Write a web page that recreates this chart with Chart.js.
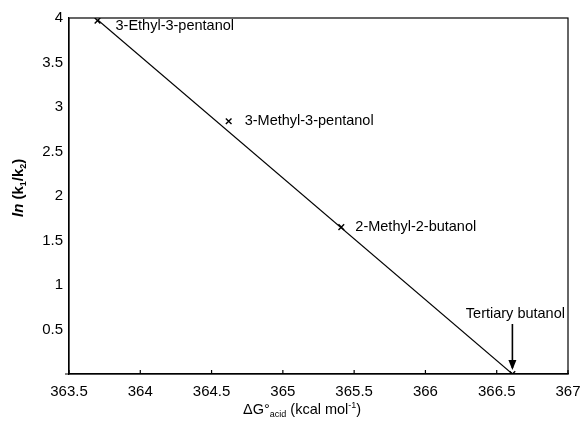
<!DOCTYPE html>
<html>
<head>
<meta charset="utf-8">
<script src="https://cdn.jsdelivr.net/npm/chart.js@4"></script>
<style>
  body { margin: 0; background: #fff; }
  #wrap { width: 583px; height: 427px; }
</style>
</head>
<body>
<div id="wrap"><canvas id="lnChart" width="583" height="427"></canvas></div>
<script>
// alcohols and their measured values
const alcohols = ['3-Ethyl-3-pentanol', '3-Methyl-3-pentanol', '2-Methyl-2-butanol', 'Tertiary butanol'];
const deltaG = [363.7, 364.62, 365.41, 366.61];   // kcal/mol
const lnRatio = [3.97, 2.84, 1.65, 0.0];

// fitted line end points
const fitX = [363.7, 366.61];
const fitY = [3.98, 0.0];

const xTicks = [363.5, 364, 364.5, 365, 365.5, 366, 366.5, 367];
const yTicks = [0.5, 1, 1.5, 2, 2.5, 3, 3.5, 4];

const points = deltaG.map((x, i) => ({ x: x, y: lnRatio[i] }));
const fitLine = fitX.map((x, i) => ({ x: x, y: fitY[i] }));

const FONT = 'Arial, "Liberation Sans", sans-serif';

// frame, inner x ticks, point labels, arrow and axis titles (with subscripts)
const extras = {
    id: 'extras',
    afterDraw(chart) {
        const c = chart.ctx, a = chart.chartArea;
        const xs = chart.scales.x, ys = chart.scales.y;
        c.save();
        c.strokeStyle = '#000';
        c.lineWidth = 1.2;
        c.strokeRect(a.left, a.top, a.right - a.left, a.bottom - a.top);
        // x axis a bit longer to the left, with small inward ticks
        c.beginPath();
        c.moveTo(a.left - 4, a.bottom);
        c.lineTo(a.left, a.bottom);
        xTicks.forEach(v => {
            const px = xs.getPixelForValue(v);
            c.moveTo(px, a.bottom);
            c.lineTo(px, a.bottom - 4);
        });
        c.stroke();

        c.fillStyle = '#000';
        c.font = '14.5px ' + FONT;
        c.textBaseline = 'middle';
        c.textAlign = 'left';
        const offs = [[18, 5], [16, 0], [14, 0]];
        for (let i = 0; i < 3; i++) {
            const px = xs.getPixelForValue(deltaG[i]);
            const py = ys.getPixelForValue(lnRatio[i]);
            c.fillText(alcohols[i], px + offs[i][0], py + offs[i][1]);
        }
        // last label with arrow
        const tx = xs.getPixelForValue(deltaG[3]);
        const ty = ys.getPixelForValue(lnRatio[3]);
        c.textAlign = 'center';
        c.fillText(alcohols[3], tx + 3, ty - 60);
        c.lineWidth = 1.6;
        c.beginPath();
        c.moveTo(tx, ty - 50);
        c.lineTo(tx, ty - 6);
        c.stroke();
        c.beginPath();
        c.moveTo(tx - 4, ty - 14);
        c.lineTo(tx, ty - 4);
        c.lineTo(tx + 4, ty - 14);
        c.closePath();
        c.fill();

        // x title: ΔG°acid (kcal mol-1)
        let x = 243, y = 414;
        c.textAlign = 'left';
        c.textBaseline = 'alphabetic';
        const seg = (txt, size, dy, w) => {
            c.font = (w || '') + ' ' + size + 'px ' + FONT;
            c.fillText(txt, x, y + dy);
            x += c.measureText(txt).width;
        };
        seg('ΔG°', 14.5, 0);
        seg('acid', 9, 3);
        seg(' (kcal mol', 14.5, 0);
        seg('-1', 9, -6);
        seg(')', 14.5, 0);

        // y title: ln (k1/k2), rotated
        c.translate(23, 217);
        c.rotate(-Math.PI / 2);
        x = 0; y = 0;
        seg('ln ', 15, 0, 'bold italic');
        seg('(k', 15, 0, 'bold');
        seg('1', 9, 3, 'bold');
        seg('/k', 15, 0, 'bold');
        seg('2', 9, 3, 'bold');
        seg(')', 15, 0, 'bold');
        c.restore();
    }
};

// fixed axis sizes, no extra padding for overhanging labels
const fixX = s => { s.height = 53; s.paddingLeft = 0; s.paddingRight = 0; };
const fixY = s => { s.width = 69; s.paddingTop = 0; s.paddingBottom = 0; };

new Chart(document.getElementById('lnChart'), {
    type: 'scatter',
    data: {
        datasets: [{
            label: 'fit',
            type: 'line',
            data: fitLine,
            borderColor: '#000',
            borderWidth: 1.1,
            pointRadius: 0,
            fill: false
        }, {
            label: 'alcohols',
            data: points,
            pointStyle: 'crossRot',
            pointRadius: 4,
            borderColor: '#000',
            borderWidth: 1.4
        }]
    },
    options: {
        responsive: false,
        animation: false,
        layout: { padding: { top: 18, right: 15, left: 0, bottom: 0 } },
        plugins: {
            legend: { display: false },
            tooltip: { enabled: false }
        },
        scales: {
            x: {
                type: 'linear',
                min: 363.5,
                max: 367,
                afterFit: fixX,
                afterBuildTicks: s => { s.ticks = xTicks.map(v => ({ value: v })); },
                grid: { display: false, drawTicks: false },
                border: { display: true, color: '#000', width: 1.2 },
                ticks: {
                    color: '#000',
                    padding: 9,
                    maxRotation: 0,
                    font: { family: FONT, size: 15 },
                    callback: v => String(v)
                }
            },
            y: {
                min: 0,
                max: 4,
                afterFit: fixY,
                afterBuildTicks: s => { s.ticks = yTicks.map(v => ({ value: v })); },
                grid: { display: false, drawTicks: true, tickLength: 4, color: '#000' },
                border: { display: true, color: '#000', width: 1.2 },
                ticks: {
                    color: '#000',
                    padding: 2,
                    font: { family: FONT, size: 15 },
                    callback: v => String(v)
                }
            }
        }
    },
    plugins: [extras]
});
</script>
</body>
</html>
